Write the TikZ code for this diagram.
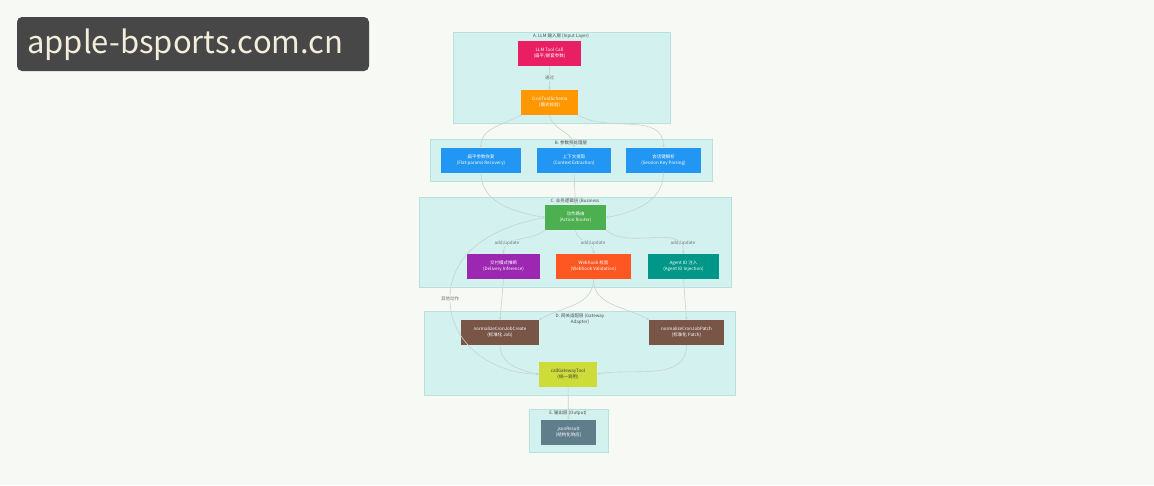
\documentclass[tikz,border=0pt]{standalone}
\usepackage{fontspec}
\setmainfont{Noto Sans CJK SC}
\usetikzlibrary{arrows.meta}
\definecolor{bg}{HTML}{F7F9F4}
\definecolor{clfill}{HTML}{D3F1EE}
\definecolor{cldraw}{HTML}{B7E1DC}
\definecolor{edge}{HTML}{C9D3D0}
\definecolor{cpink}{HTML}{E91E63}
\definecolor{corange}{HTML}{FF9800}
\definecolor{cblue}{HTML}{2196F3}
\definecolor{cgreen}{HTML}{4CAF50}
\definecolor{cpurple}{HTML}{9C27B0}
\definecolor{cdeep}{HTML}{FF5722}
\definecolor{cteal}{HTML}{009688}
\definecolor{cbrown}{HTML}{795548}
\definecolor{clime}{HTML}{CDDC39}
\definecolor{cslate}{HTML}{607D8B}
\definecolor{cream}{HTML}{F3EEDC}
\tikzset{
 cl/.style={draw=cldraw,fill=clfill,line width=0.6pt},
 bx/.style={minimum width=#1, minimum height=25pt, inner sep=0pt, align=center, font=\fontsize{4.5}{6}\selectfont, text=white},
 ttl/.style={font=\fontsize{4.5}{5.5}\selectfont, text=black!70, align=center},
 lbl/.style={font=\fontsize{4.5}{5.5}\selectfont, text=black!55},
 ed/.style={draw=edge, line width=0.6pt, -{Stealth[length=2.5pt,width=2.5pt]}},
}
\begin{document}
\begin{tikzpicture}[x=1pt,y=-1pt]
\useasboundingbox[fill=bg] (0,0) rectangle (1154,485);
% watermark
\draw[fill=black!72, rounded corners=5pt, draw=none] (17,17) rectangle (369,71);
\node[text=cream, font=\fontsize{31}{33}\selectfont, anchor=west, inner sep=0pt] (wm) at (27,45) {apple-bsports.com.cn};
% clusters
\draw[cl] (453,32) rectangle (670,123);
\node[ttl] (ta) at (561,36) {A. LLM 输入层 (Input Layer)};
\draw[cl] (430,139) rectangle (712,181);
\node[ttl] (tb) at (571,143) {B. 参数预处理层};
\draw[cl] (419,197) rectangle (731,287);
\node[ttl] (tc) at (575,201) {C. 业务逻辑层 (Business};
\draw[cl] (424,311) rectangle (735,395);
\node[ttl] (td) at (580,319) {D. 网关适配层 (Gateway\\Adapter)};
\draw[cl] (529,409) rectangle (608,452);
\node[ttl] (te) at (568,413) {E. 输出层 (Output)};
% nodes
\node[bx=63pt, fill=cpink] (llm) at (549.5,53) {LLM Tool Call\\(扁平/嵌套参数)};
\node[bx=57pt, fill=corange] (cron) at (549.5,102.5) {CronToolSchema\\(模式校验)};
\node[bx=80pt, fill=cblue] (b1) at (481,160) {扁平参数恢复\\(Flat-params Recovery)};
\node[bx=74pt, fill=cblue] (b2) at (574,160) {上下文提取\\(Context Extraction)};
\node[bx=75pt, fill=cblue] (b3) at (663.5,160) {会话键解析\\(Session Key Parsing)};
\node[bx=61pt, fill=cgreen] (ar) at (575.5,217.5) {动作路由\\(Action Router)};
\node[bx=73pt, fill=cpurple] (c1) at (503.5,266.5) {交付模式推断\\(Delivery Inference)};
\node[bx=75pt, fill=cdeep] (c2) at (593.5,266.5) {Webhook 校验\\(Webhook Validation)};
\node[bx=71pt, fill=cteal] (c3) at (683.5,266.5) {Agent ID 注入\\(Agent ID Injection)};
\node[bx=78pt, fill=cbrown] (n1) at (500,332.5) {normalizeCronJobCreate\\(标准化 Job)};
\node[bx=75pt, fill=cbrown] (n2) at (686.5,332.5) {normalizeCronJobPatch\\(标准化 Patch)};
\node[bx=58pt, fill=clime, text=black!75] (cg) at (568,374) {callGatewayTool\\(统一调用)};
\node[bx=55pt, fill=cslate] (jr) at (568.5,432) {jsonResult\\(结构化响应)};
% edges
\draw[ed] (llm) -- node[lbl, fill=clfill, inner sep=1pt] (l0) {通过} (cron);
\draw[ed] (cron.south west) to[out=-150,in=90] (b1.north);
\draw[ed] (cron.south) to[out=-80,in=90] (b2.north);
\draw[ed] (cron.south east) to[out=-30,in=90] (b3.north);
\draw[ed] (b1.south) to[out=-90,in=170] (ar.west);
\draw[ed] (b2.south) -- (ar.north);
\draw[ed] (b3.south) to[out=-90,in=10] (ar.east);
\draw[ed] (ar.south west) to[out=-140,in=90] (c1.north);
\draw[ed] (ar.south) to[out=-85,in=90] (c2.north);
\draw[ed] (ar.south east) to[out=-40,in=90] (c3.north);
\node[lbl, fill=clfill, inner sep=1pt] (l1) at (507,243) {add/update};
\node[lbl, fill=clfill, inner sep=1pt] (l2) at (593,243) {add/update};
\node[lbl, fill=clfill, inner sep=1pt] (l3) at (683,243) {add/update};
\coordinate (k1) at (450,299);
\draw[ed] (ar.west) to[out=190,in=90] (k1) to[out=-90,in=180] (cg.west);
\node[lbl, fill=bg, inner sep=1pt] (l4) at (450,299) {其他动作};
\draw[ed] (c1.south) -- (n1.north);
\draw[ed] (c2.south) to[out=-90,in=30] (n1.north east);
\draw[ed] (c3.south) -- (n2.north);
\draw[ed] (c2.south) to[out=-90,in=150] (n2.north west);
\draw[ed] (n1.south) to[out=-90,in=170] (cg.west);
\draw[ed] (n2.south) to[out=-90,in=10] (cg.east);
\draw[ed] (cg) -- (jr);
\end{tikzpicture}
\end{document}
